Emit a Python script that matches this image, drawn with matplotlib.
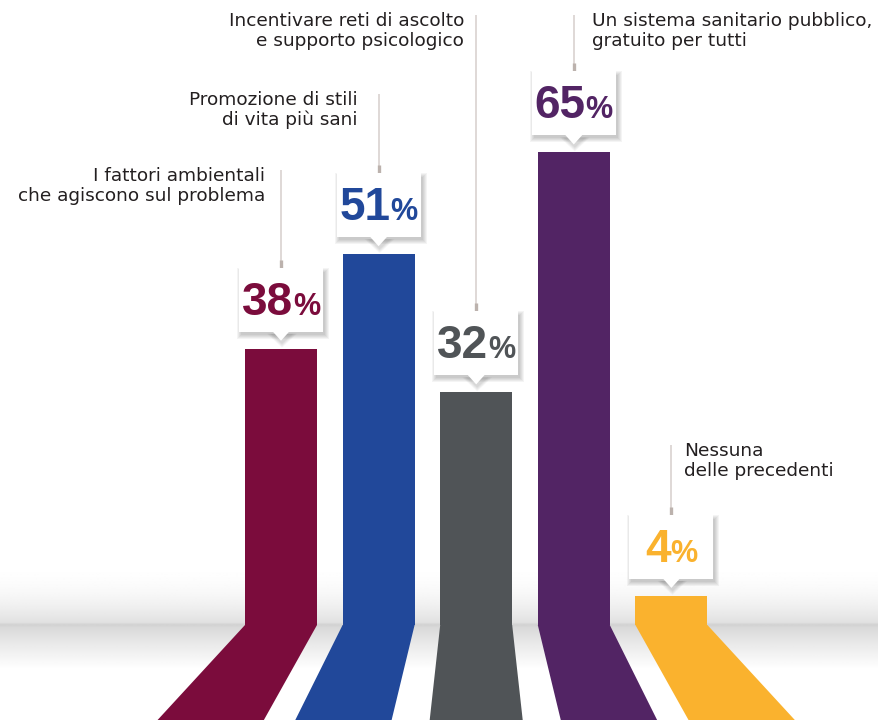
import numpy as np
import matplotlib
matplotlib.use('Agg')
import matplotlib.pyplot as plt
from matplotlib.patches import Polygon, Rectangle
from matplotlib.offsetbox import TextArea, HPacker, AnnotationBbox

plt.rcParams['font.family'] = ['Liberation Sans', 'DejaVu Sans']

labels = [
    'I fattori ambientali\nche agiscono sul problema',
    'Promozione di stili\ndi vita più sani',
    'Incentivare reti di ascolto\ne supporto psicologico',
    'Un sistema sanitario pubblico,\ngratuito per tutti',
    'Nessuna\ndelle precedenti',
]
values = [38, 51, 32, 65, 4]
colors = ['#7b0c3c', '#21489a', '#505457', '#522464', '#fab22e']

# label layout: side of the leader line, horizontal gap (px), top of text (px from top)
label_side = ['right', 'right', 'right', 'left', 'left']
label_gap = [16, 21, 12, 18, 13]
label_top = [167, 91, 12, 12, 442]

W, H = 879, 720
FLOOR = 625      # floor line, px from top
PPP = 7.27       # px per percentage point
X0 = 281         # centre of first bar, px
STEP = 97.6      # bar spacing, px


def dx(p):
    return p / STEP


def dy(p):
    return p / PPP


def py(p):
    return (FLOOR - p) / PPP


fig = plt.figure(figsize=(W / 100, H / 100), dpi=100)
ax = fig.add_axes([0, 0, 1, 1])
xmin, xmax = -X0 / STEP, (W - X0) / STEP
ax.set_xlim(xmin, xmax)
ax.set_ylim(py(H), py(0))
ax.axis('off')

# soft grey band around the floor line
rows = np.arange(550, 690)
g = np.ones(len(rows))
up = rows < FLOOR
t = np.clip((rows[up] - 556) / (FLOOR - 556), 0, 1)
g[up] = 1 - 0.13 * t ** 2.4
dn = rows >= FLOOR
t = np.clip((rows[dn] - FLOOR) / 44, 0, 1)
g[dn] = 0.84 + 0.16 * t ** 0.9
g[(rows >= FLOOR - 1) & (rows <= FLOOR + 1)] = 0.83
img = np.tile(g[:, None], (1, 2))
ax.imshow(img, cmap='gray', vmin=0, vmax=1, aspect='auto',
          extent=(xmin, xmax, py(rows[-1]), py(rows[0])),
          interpolation='bilinear', zorder=0)

x = np.arange(len(values))
bw = dx(72)
ax.bar(x, values, width=bw, color=colors, zorder=3)

# perspective strips on the floor
ybot = py(H)
for i, c in enumerate(colors):
    k = i - 2
    cb = i + 0.36 * k
    hb = (0.953 + 0.034 * k * k) / 2
    ax.add_patch(Polygon([(i - bw / 2, 0), (i + bw / 2, 0),
                          (cb + hb, ybot), (cb - hb, ybot)],
                         closed=True, color=c, lw=0, zorder=3))

for i, (v, c) in enumerate(zip(values, colors)):
    bb = v + dy(17)
    bt = bb + dy(64)
    half = dx(42)

    # drop shadow
    for s in range(5):
        ax.add_patch(Rectangle((i - half + dx(2) - dx(s), bb - dy(3) - dy(s)),
                               2 * half + 2 * dx(s), bt - bb + 2 * dy(s) - dy(1),
                               color='black', alpha=0.045, lw=0, zorder=4))
        ax.add_patch(Polygon([(i - dx(10 + s), bb - dy(2)), (i + dx(12 + s), bb - dy(2)),
                              (i + dx(1), bb - dy(12 + s))],
                             closed=True, color='black', alpha=0.03, lw=0, zorder=4))
    ax.add_patch(Rectangle((i - half, bb), 2 * half, bt - bb,
                           color='white', lw=0, zorder=5))
    ax.add_patch(Polygon([(i - dx(9), bb + dy(1)), (i + dx(9), bb + dy(1)),
                          (i, bb - dy(9))],
                         closed=True, color='white', lw=0, zorder=5))

    num = TextArea(str(v), textprops=dict(fontsize=33, fontweight='bold', color=c))
    pct = TextArea('%', textprops=dict(fontsize=22, fontweight='bold', color=c))
    pack = HPacker(children=[num, pct], align='baseline', pad=0, sep=0)
    ab = AnnotationBbox(pack, (i, (bb + bt) / 2 - dy(3)), frameon=False,
                        box_alignment=(0.5, 0.5), zorder=6)
    ax.add_artist(ab)

    # leader line up to the caption
    ax.plot([i, i], [bt, py(label_top[i] + 3)], color='#d6cecb', lw=1.1,
            solid_capstyle='butt', zorder=2)
    ax.plot([i, i], [bt, bt + dy(8)], color='#bcb2ad', lw=2.4,
            solid_capstyle='butt', zorder=2)

    if label_side[i] == 'right':
        tx, ha = i - dx(label_gap[i]), 'right'
    else:
        tx, ha = i + dx(label_gap[i]), 'left'
    ax.text(tx, py(label_top[i]), labels[i], ha=ha, va='top', fontsize=13.3,
            family='DejaVu Sans', color='#231f20', linespacing=1.12,
            multialignment=ha, zorder=6)

fig.savefig('out.png', dpi=100)
